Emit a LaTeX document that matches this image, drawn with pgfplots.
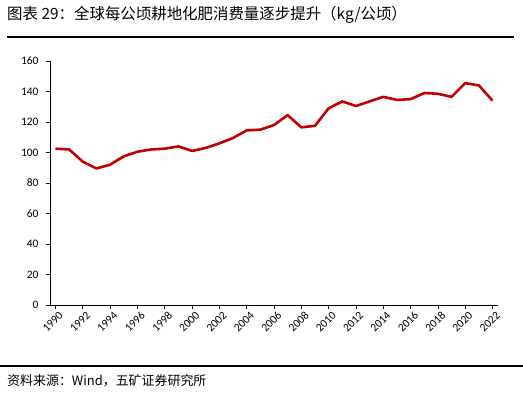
\documentclass[border=0pt]{standalone}
\usepackage{pgfplots}
\pgfplotsset{compat=1.18}
\usepackage{fontspec}
\setmainfont{Carlito}
\newfontfamily\cjk{Noto Sans CJK SC}
\definecolor{linered}{RGB}{192,0,0}
\begin{document}
\begin{tikzpicture}
\path[use as bounding box] (0bp,0bp) rectangle (523bp,393bp);
\node[anchor=west,inner sep=0pt,font=\cjk\fontsize{15.5}{17}\selectfont] at (7bp,378bp) {图表 29：全球每公顷耕地化肥消费量逐步提升（kg/公顷）};
\draw[line width=1.3bp] (7bp,356bp) -- (514bp,356bp);
\draw[line width=1.3bp] (0bp,27bp) -- (523bp,27bp);
\node[anchor=west,inner sep=0pt,font=\cjk\fontsize{13}{15}\selectfont] at (7bp,12bp) {资料来源：Wind，五矿证券研究所};
\begin{axis}[
  at={(50bp,88bp)}, anchor=south west,
  scale only axis, width=448bp, height=244bp,
  xmin=1989.6, xmax=2022.4, ymin=0, ymax=160,
  axis x line*=bottom, axis y line*=left,
  axis line style={black, line width=0.9bp},
  xtick={1990,1992,...,2022},
  ytick={0,20,...,160},
  tick style={black, line width=0.8bp},
  major tick length=4bp,
  tick align=outside,
  xticklabel style={rotate=45, anchor=north east, font=\fontsize{11.5}{13}\selectfont, inner sep=1pt, yshift=-2pt, xshift=2pt},
  yticklabel style={font=\fontsize{11.5}{13}\selectfont, xshift=-4pt},
  /pgf/number format/assume math mode=true,
  /pgf/number format/1000 sep={},
  scaled ticks=false,
  clip=false,
]
\addplot[color=linered, line width=2.6bp, line join=round] coordinates {
(1990,102.5) (1991,102) (1992,94) (1993,89.5) (1994,92) (1995,97.5)
(1996,100.5) (1997,102) (1998,102.5) (1999,104) (2000,101) (2001,103)
(2002,106) (2003,109.5) (2004,114.5) (2005,115) (2006,118) (2007,124.5)
(2008,116.5) (2009,117.5) (2010,129) (2011,133.5) (2012,130.5) (2013,133.5)
(2014,136.5) (2015,134.5) (2016,135) (2017,139) (2018,138.5) (2019,136.5)
(2020,145.5) (2021,144) (2022,134)
};
\end{axis}
\end{tikzpicture}
\end{document}
